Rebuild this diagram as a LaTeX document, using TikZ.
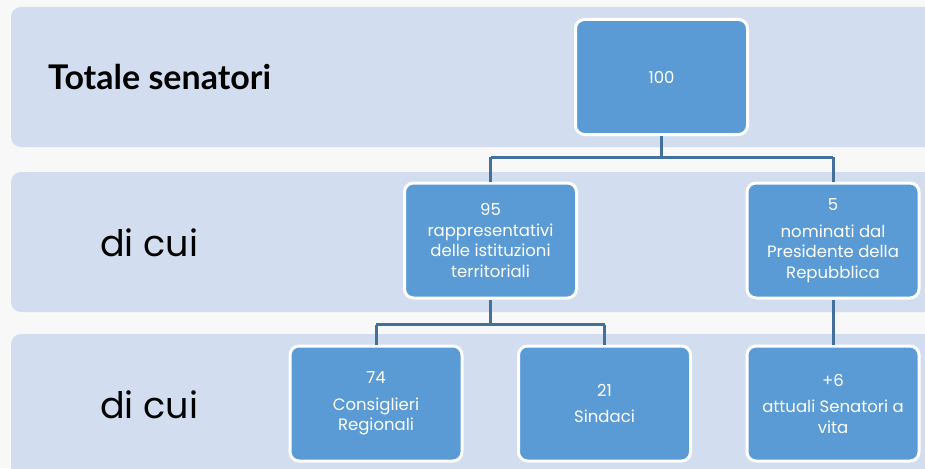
\documentclass[tikz,border=0pt]{standalone}
\usepackage{fontspec}
\setmainfont{Poppins}
\newfontfamily\labelfont{Lato}
\definecolor{pagebg}{RGB}{248,248,248}
\definecolor{bandbg}{RGB}{210,222,239}
\definecolor{boxfill}{RGB}{91,155,213}
\definecolor{linkcol}{RGB}{65,113,156}
\tikzset{
  band/.style={fill=bandbg, draw=none, rounded corners=10pt},
  orgbox/.style={rectangle, rounded corners=9pt, fill=boxfill, draw=white, line width=3pt,
    minimum width=172pt, minimum height=115pt, text=white, align=center,
    font=\fontsize{16.5}{20.5}\selectfont, inner sep=2pt},
  link/.style={draw=linkcol, line width=3pt},
  rowlabel/.style={anchor=west, text=black, inner sep=0pt}
}
\begin{document}
\begin{tikzpicture}[x=1pt,y=1pt]
\useasboundingbox (0,0) rectangle (925,-468);
\fill[pagebg] (0,0) rectangle (925,-468);
% bands
\path[band] (11,-7) rectangle (960,-147);
\path[band] (11,-172) rectangle (960,-312);
\path[band] (11,-334) rectangle (960,-500);
% row labels
\node[rowlabel, font=\labelfont\bfseries\fontsize{34}{38}\selectfont] (lab1) at (48,-77) {Totale senatori};
\node[rowlabel, font=\fontsize{36.5}{40}\selectfont] (lab2) at (100,-243) {di cui};
\node[rowlabel, font=\fontsize{36.5}{40}\selectfont] (lab3) at (100,-405) {di cui};
% boxes
\node[orgbox] (n100) at (661.5,-77) {100};
\node[orgbox] (n95) at (490.5,-240.5) {95\\rappresentativi\\delle istituzioni\\territoriali};
\node[orgbox] (n5) at (833,-240.5) {5\\[6pt]nominati dal\\Presidente della\\Repubblica};
\node[orgbox] (n74) at (376,-403.5) {74\\[6pt]Consiglieri\\Regionali};
\node[orgbox] (n21) at (604.5,-403.5) {21\\[6pt]Sindaci};
\node[orgbox] (n6) at (833,-403.5) {+6\\[6pt]attuali Senatori a\\vita};
% connectors
\draw[link] (n100.south) -- ++(0,-21) coordinate (j1);
\draw[link] (j1 -| n95.north) -- (j1 -| n5.north);
\draw[link] (j1 -| n95.north) -- (n95.north);
\draw[link] (j1 -| n5.north) -- (n5.north);
\draw[link] (n95.south) -- ++(0,-25) coordinate (j2);
\draw[link] (j2 -| n74.north) -- (j2 -| n21.north);
\draw[link] (j2 -| n74.north) -- (n74.north);
\draw[link] (j2 -| n21.north) -- (n21.north);
\draw[link] (n5.south) -- (n6.north);
\end{tikzpicture}
\end{document}
